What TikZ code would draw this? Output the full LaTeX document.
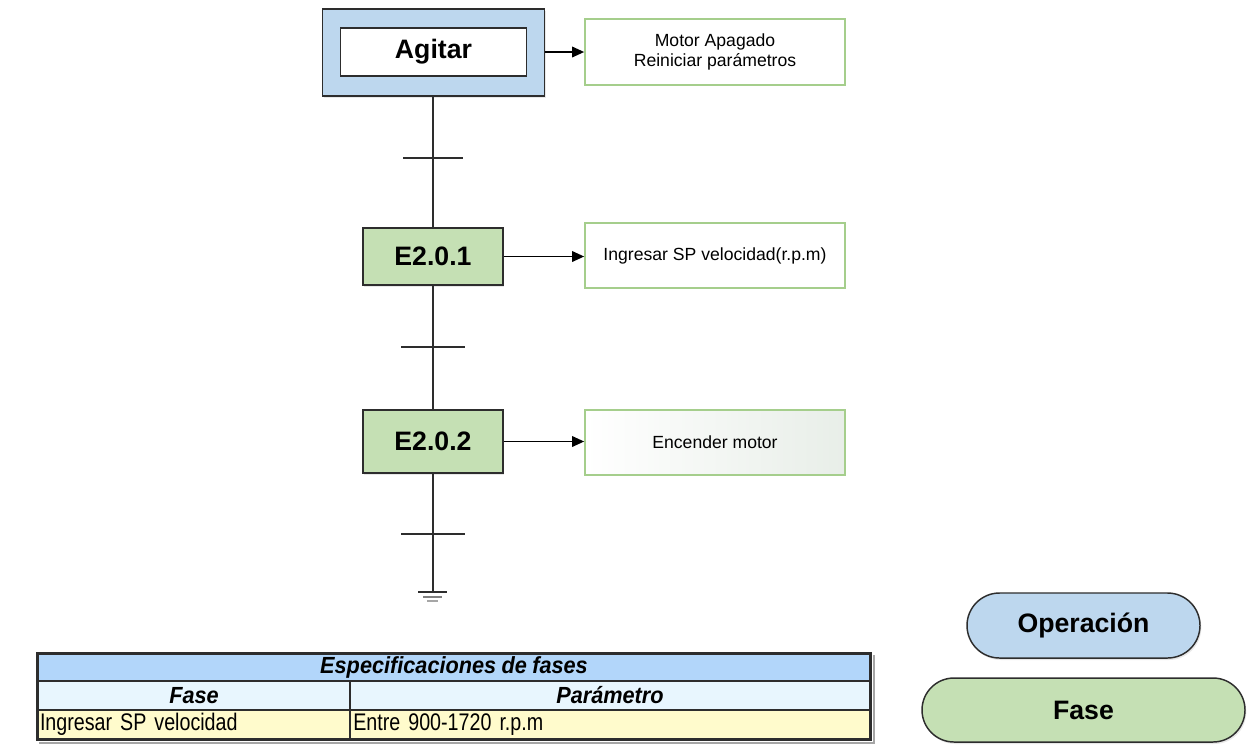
\documentclass[tikz,border=0pt]{standalone}
\usepackage{fontspec}
\setmainfont{Liberation Sans}
\newfontfamily\cellfont[FakeStretch=0.82]{Liberation Sans}
\newfontfamily\headfont[FakeStretch=0.93]{Liberation Sans}
\newcommand\headstyle{\headfont\bfseries\itshape\fontsize{17.5}{20}\selectfont\spaceskip 4pt\relax}
\newcommand\cellstyle{\cellfont\fontsize{18}{20}\selectfont\spaceskip 3.8pt\relax}
\usetikzlibrary{arrows.meta,shapes.misc,shadows,calc}

\definecolor{opblue}{RGB}{189,215,238}
\definecolor{stepgreen}{RGB}{197,224,180}
\definecolor{actgreen}{RGB}{165,206,140}
\definecolor{edge}{RGB}{45,45,45}
\definecolor{hdrblue}{RGB}{178,214,250}
\definecolor{subblue}{RGB}{232,246,254}
\definecolor{rowyellow}{RGB}{255,251,204}
\definecolor{actgrey}{RGB}{232,238,232}

\tikzset{
  softshadow/.style={drop shadow={shadow xshift=1pt, shadow yshift=-1.5pt, opacity=0.18}},
  stepbox/.style={draw=edge, line width=1.3pt, fill=stepgreen, inner sep=0pt,
    minimum width=140*0.75pt, font=\bfseries\fontsize{20}{24}\selectfont, softshadow},
  actbox/.style={draw=actgreen, line width=1.3pt, fill=white, inner sep=0pt,
    minimum width=260*0.75pt, align=center, font=\fontsize{13.2}{15}\selectfont},
  pill/.style={rounded rectangle, draw=edge, line width=1.1pt, inner sep=0pt,
    font=\bfseries\fontsize{20}{24}\selectfont, softshadow},
  flow/.style={draw=edge, line width=1.1pt},
  act/.style={draw=black, line width=1pt, -{Triangle[length=9pt,width=8pt]}},
  bar/.style={draw=edge, line width=1.2pt},
  cell/.style={draw=edge, line width=0.9pt, inner sep=0pt, minimum height=29*0.75pt},
}

\begin{document}
\begin{tikzpicture}[x=0.75pt, y=-0.75pt]
\useasboundingbox (0,0) rectangle (1248,744);

% operation block
\node[draw=edge, line width=1.3pt, fill=opblue, inner sep=0pt,
      minimum width=222*0.75pt, minimum height=87*0.75pt, softshadow]
      (agitar) at (433.5,52.5) {};
\node[draw=edge, line width=1.3pt, fill=white, inner sep=0pt,
      minimum width=186*0.75pt, minimum height=48*0.75pt,
      font=\bfseries\fontsize{20}{24}\selectfont] (agitarin) at (433.5,52) {Agitar};

% steps
\node[stepbox, minimum height=57*0.75pt] (e201) at (433,256.5) {E2.0.1};
\node[stepbox, minimum height=63*0.75pt] (e202) at (433,441.5) {E2.0.2};

% actions
\node[actbox, minimum height=66*0.75pt] (motor) at (715,52) {Motor Apagado\\Reiniciar parámetros};
\node[actbox, minimum height=65*0.75pt] (sp) at (715,255.5) {Ingresar SP velocidad(r.p.m)};
\node[actbox, minimum height=65*0.75pt, left color=white, right color=actgrey] (enc) at (715,442.5) {Encender motor};

% transitions and end of sequence
\coordinate (t1) at (433,158);
\coordinate (t2) at (433,347);
\coordinate (t3) at (433,534);
\coordinate (gnd) at (433,592);

\draw[flow] (e201.north |- agitar.south) -- (e201.north);
\draw[flow] (e201.south) -- (e202.north);
\draw[flow] (e202.south) -- (gnd);

\draw[bar] ($(t1)+(-30,0)$) -- ($(t1)+(30,0)$);
\draw[bar] ($(t2)+(-32,0)$) -- ($(t2)+(32,0)$);
\draw[bar] ($(t3)+(-32,0)$) -- ($(t3)+(32,0)$);

\draw[line width=1.3pt, draw=edge] ($(gnd)+(-15,0)$) -- ($(gnd)+(14,0)$);
\draw[line width=1.2pt, draw=gray] ($(gnd)+(-10,5)$) -- ($(gnd)+(9,5)$);
\draw[line width=1.2pt, draw=gray!70] ($(gnd)+(-6,9)$) -- ($(gnd)+(5,9)$);

% actions attached to each block
\draw[act] (agitar.east |- motor.west) -- (motor.west);
\draw[act] (e201.east) -- (e201.east -| sp.west);
\draw[act] (e202.east) -- (e202.east -| enc.west);

% legend
\node[pill, fill=opblue, minimum width=233*0.75pt, minimum height=65*0.75pt] (leyop) at (1083.5,625.5) {Operación};
\node[pill, fill=stepgreen, minimum width=323*0.75pt, minimum height=64*0.75pt] (leyfase) at (1083.5,710) {Fase};

% phase specification table
\node[cell, fill=hdrblue, minimum width=832*0.75pt, minimum height=27*0.75pt, font=\headstyle] (ttl) at (454,667.5) {Especificaciones de fases};
\node[cell, fill=subblue, minimum width=312*0.75pt, font=\headstyle] (hfase) at (194,695.5) {Fase};
\node[cell, fill=subblue, minimum width=520*0.75pt, font=\headstyle] (hpar) at (610,695.5) {Parámetro};
\node[cell, fill=rowyellow, minimum width=312*0.75pt, inner xsep=1.5pt,
      text width=312*0.75pt-3pt, align=left, font=\cellstyle] (cfase) at (194,724.5) {Ingresar SP velocidad};
\node[cell, fill=rowyellow, minimum width=520*0.75pt, inner xsep=2.5pt,
      text width=520*0.75pt-5pt, align=left, font=\cellstyle] (cpar) at (610,724.5) {Entre 900-1720 r.p.m};
\draw[draw=gray!70, line width=1.5pt] ($(ttl.north east)+(3,2)$) -- ($(cpar.south east)+(3,3)$) -- ($(cfase.south west)+(2,3)$);
\draw[draw=edge, line width=1.8pt] (ttl.north west) rectangle (cpar.south east);
\end{tikzpicture}
\end{document}
